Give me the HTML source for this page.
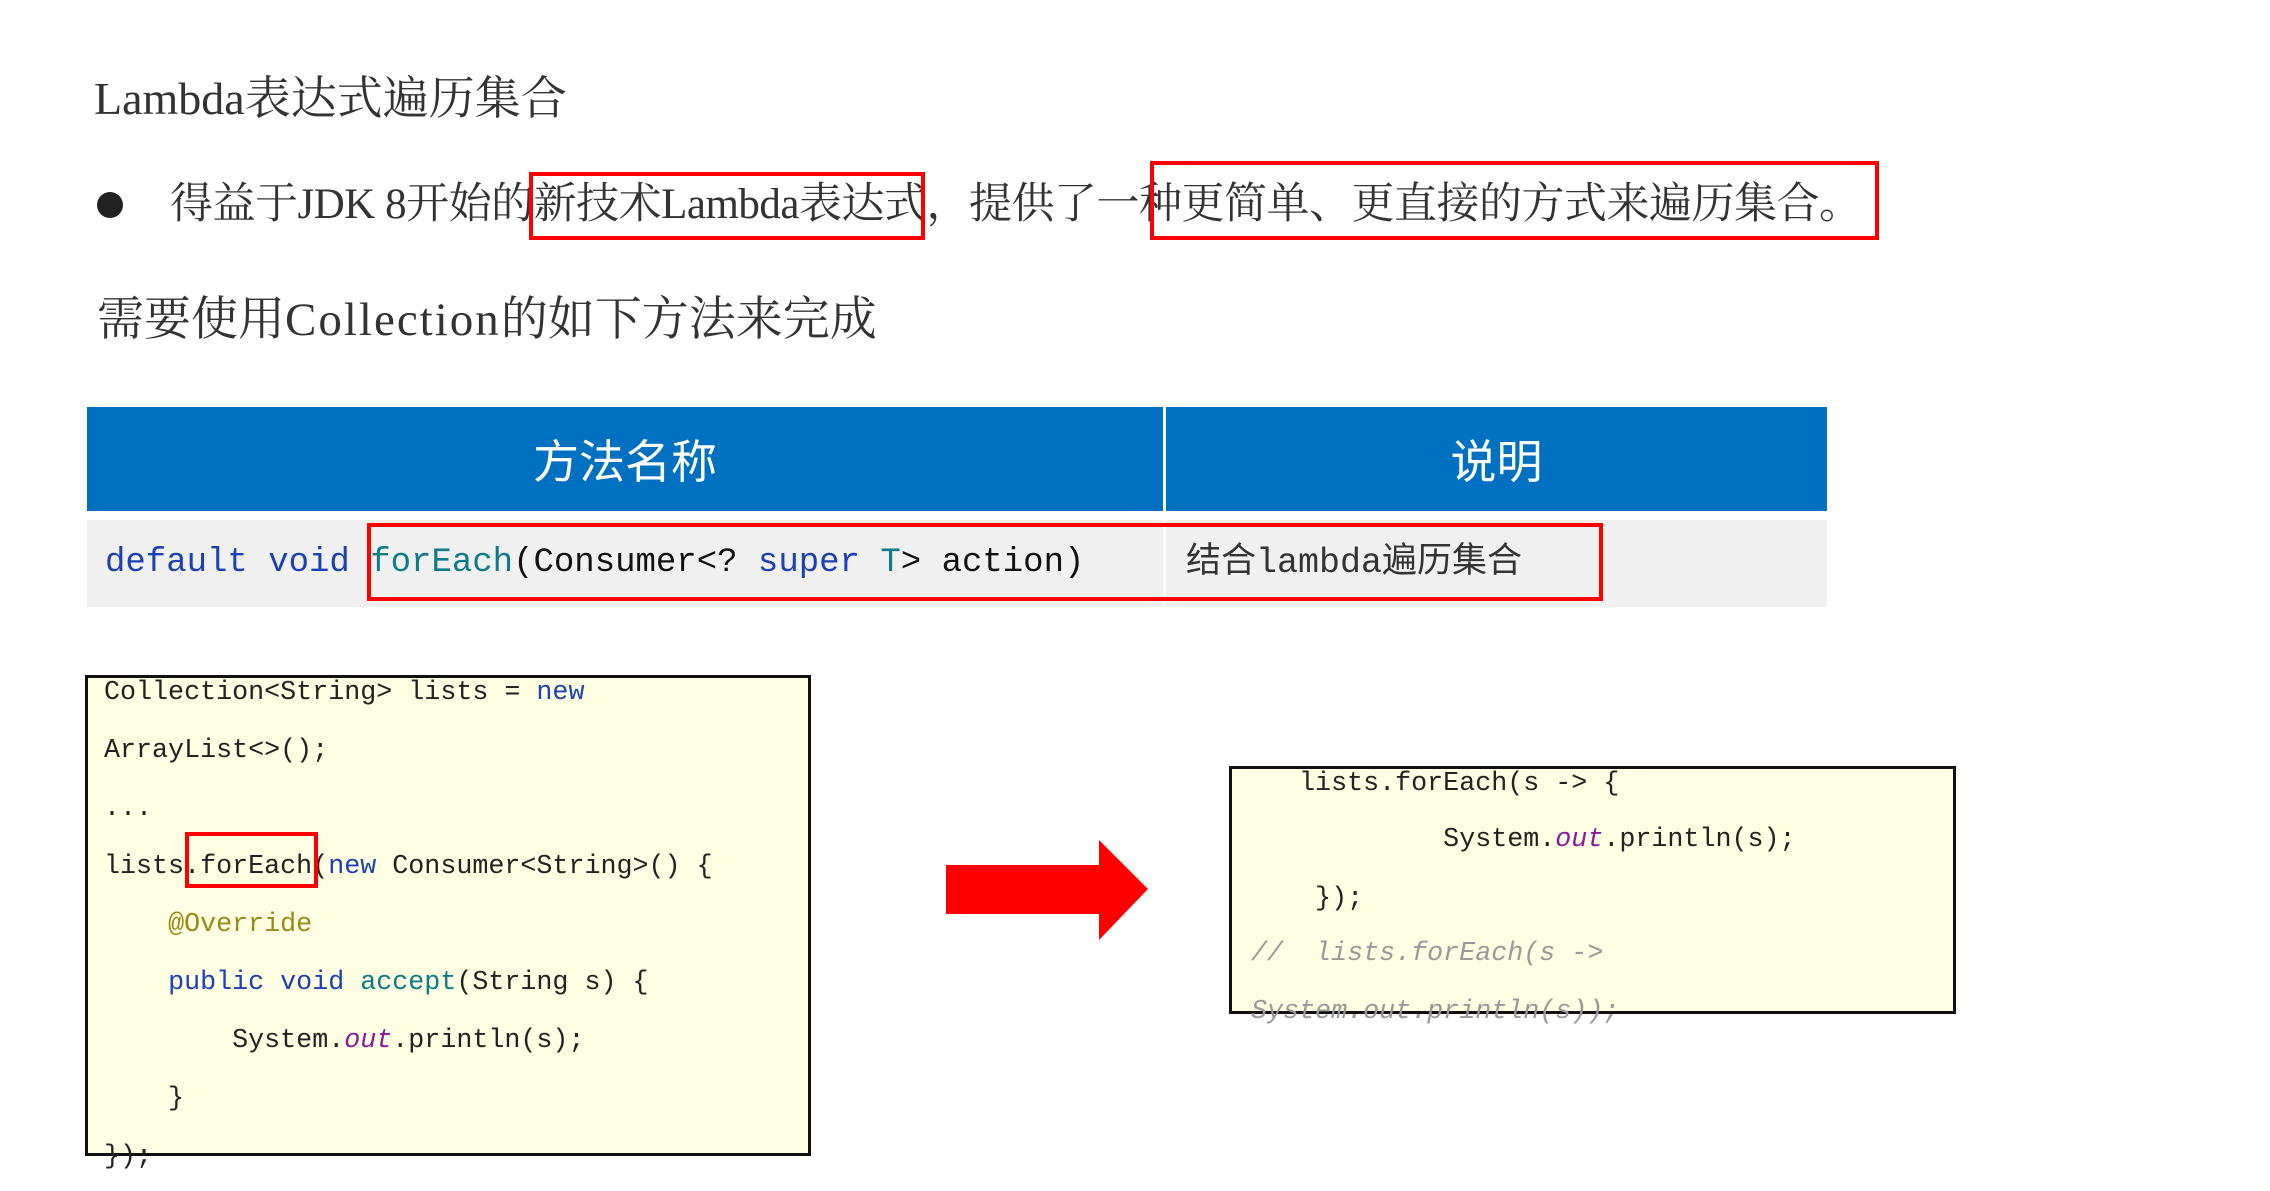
<!DOCTYPE html>
<html><head><meta charset="utf-8"><style>
body{margin:0;width:2270px;height:1191px;background:#fff;position:relative;overflow:hidden;font-family:"Liberation Serif","Noto Serif CJK SC",serif;color:#333}
.a{position:absolute;white-space:pre}
.rb{position:absolute;border:4px solid #f00;box-sizing:border-box}
.code{font-family:"Liberation Mono","Noto Sans CJK SC",monospace;font-size:26.7px;line-height:58px;color:#222}
.kw{color:#1d3fb8}.tl{color:#0e7c86}.pu{color:#8b1a9e;font-style:italic}.an{color:#9a8a18}
.cm{color:#999;font-style:italic}
</style></head><body>
<div class="a" style="left:94px;top:72px;font-size:46px;line-height:54px">Lambda表达式遍历集合</div>
<div class="a" style="left:97px;top:192px;width:26px;height:26px;border-radius:50%;background:#222"></div>
<div class="a" style="left:170px;top:178px;font-size:43px;line-height:54px;letter-spacing:-0.5px">得益于JDK 8开始的新技术Lambda表达式，提供了一种更简单、更直接的方式来遍历集合。</div>
<div class="rb" style="left:529px;top:172px;width:396px;height:68px"></div>
<div class="rb" style="left:1150px;top:161px;width:729px;height:79px"></div>
<div class="a" style="left:97px;top:292px;font-size:47px;line-height:56px">需要使用<span style="letter-spacing:2px">Collection</span>的如下方法来完成</div>

<div class="a" style="left:87px;top:407px;width:1740px;height:104px;background:#0070c0"></div>
<div class="a" style="left:1163px;top:407px;width:3px;height:104px;background:#fff"></div>
<div class="a" style="left:87px;top:407px;width:1076px;line-height:104px;text-align:center;color:#fff;font-size:46px;font-family:'Noto Sans CJK SC',sans-serif">方法名称</div>
<div class="a" style="left:1166px;top:407px;width:661px;line-height:104px;text-align:center;color:#fff;font-size:46px;font-family:'Noto Sans CJK SC',sans-serif">说明</div>
<div class="a" style="left:87px;top:520px;width:1740px;height:87px;background:#f0f0f0"></div>
<div class="a" style="left:1163px;top:520px;width:3px;height:87px;background:#fff"></div>
<div class="a" style="left:105px;top:520px;line-height:86px;font-size:34px;font-family:'Liberation Mono',monospace;color:#111"><span class="kw">default void</span> <span class="tl">forEach</span>(Consumer&lt;? <span class="kw">super</span> <span class="tl">T</span>&gt; action)</div>
<div class="a" style="left:1186px;top:520px;line-height:86px;font-size:35px;font-family:'Liberation Mono','Noto Sans CJK SC',monospace;color:#333">结合lambda遍历集合</div>
<div class="rb" style="left:367px;top:523px;width:1236px;height:78px"></div>

<div class="a" style="left:85px;top:675px;width:726px;height:481px;background:#fefee2;border:3px solid #111;box-sizing:border-box"></div>
<div class="a code" style="left:104px;top:664px">Collection&lt;String&gt; lists = <span class="kw">new</span></div>
<div class="a code" style="left:104px;top:722px">ArrayList&lt;&gt;();</div>
<div class="a code" style="left:104px;top:780px">...</div>
<div class="a code" style="left:104px;top:838px">lists.forEach(<span class="kw">new</span> Consumer&lt;String&gt;() {</div>
<div class="a code" style="left:104px;top:896px">    <span class="an">@Override</span></div>
<div class="a code" style="left:104px;top:954px">    <span class="kw">public void</span> <span class="tl">accept</span>(String s) {</div>
<div class="a code" style="left:104px;top:1012px">        System.<span class="pu">out</span>.println(s);</div>
<div class="a code" style="left:104px;top:1070px">    }</div>
<div class="a code" style="left:104px;top:1128px">});</div>
<div class="rb" style="left:185px;top:832px;width:133px;height:56px"></div>

<svg class="a" style="left:0;top:0" width="2270" height="1191"><polygon points="946,865 1099,865 1099,840 1148,889 1099,940 1099,914 946,914" fill="#f00"/></svg>

<div class="a" style="left:1229px;top:766px;width:727px;height:248px;background:#fefee2;border:3px solid #111;box-sizing:border-box"></div>
<div class="a code" style="left:1251px;top:755px">   lists.forEach(s -&gt; {</div>
<div class="a code" style="left:1251px;top:811px">            System.<span class="pu">out</span>.println(s);</div>
<div class="a code" style="left:1251px;top:870px">    });</div>
<div class="a code cm" style="left:1251px;top:925px">//  lists.forEach(s -&gt;</div>
<div class="a code cm" style="left:1251px;top:983px">System.out.println(s));</div>
</body></html>
